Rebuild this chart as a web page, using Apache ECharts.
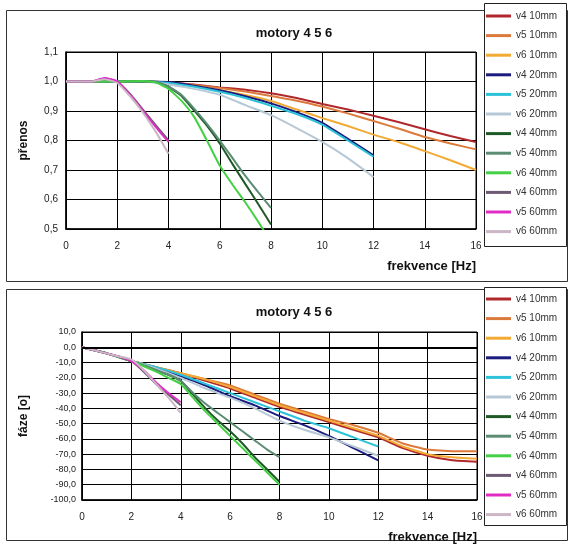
<!DOCTYPE html>
<html>
<head>
<meta charset="utf-8">
<script src="https://cdn.jsdelivr.net/npm/echarts@6/dist/echarts.min.js"></script>
<style>
  html, body { margin: 0; padding: 0; background: #fff; }
  #chart { width: 569px; height: 547px; }
</style>
</head>
<body>
<div id="chart"></div>
<script>
// serie names (legend order)
const names = ["v4 10mm", "v5 10mm", "v6 10mm", "v4 20mm", "v5 20mm", "v6 20mm",
  "v4 40mm", "v5 40mm", "v6 40mm", "v4 60mm", "v5 60mm", "v6 60mm"];
const colors = ["#b0282c", "#dc7a3c", "#f2aa34", "#1c1c7e", "#2cc2d8", "#b6c8d6",
  "#1f5a26", "#5c8c74", "#44d044", "#6c5a72", "#e02cc4", "#cbb6c6"];

// frekvence [Hz]
const f10 = [0, 1, 2, 3, 4, 5, 6, 7, 8, 9, 10, 11, 12, 13, 14, 15, 16];
const f20 = [0, 1, 2, 3, 4, 5, 6, 7, 8, 9, 10, 11, 12];
const f40 = [0, 1, 2, 3, 3.5, 4, 4.5, 5, 5.5, 6, 6.5, 7, 7.5, 8];
const f60 = [0, 0.5, 1, 1.5, 2, 2.5, 3, 3.5, 4];

// prenos
const prenosV4_10 = [1.0, 1.0, 1.0, 1.0, 0.997, 0.99, 0.98, 0.972, 0.96, 0.944, 0.924, 0.905, 0.884, 0.862, 0.838, 0.815, 0.795];
const prenosV5_10 = [1.0, 1.0, 1.0, 1.0, 0.996, 0.988, 0.978, 0.966, 0.951, 0.935, 0.915, 0.892, 0.866, 0.84, 0.812, 0.79, 0.77];
const prenosV6_10 = [1.0, 1.0, 1.0, 1.0, 0.995, 0.985, 0.97, 0.954, 0.934, 0.905, 0.876, 0.849, 0.82, 0.794, 0.764, 0.733, 0.7];
const prenosV4_20 = [1.0, 1.0, 1.0, 1.0, 0.998, 0.986, 0.97, 0.95, 0.926, 0.896, 0.86, 0.806, 0.75];
const prenosV5_20 = [1.0, 1.0, 1.0, 1.0, 0.995, 0.982, 0.965, 0.944, 0.918, 0.89, 0.854, 0.8, 0.745];
const prenosV6_20 = [1.0, 1.0, 1.0, 1.0, 0.99, 0.975, 0.955, 0.92, 0.886, 0.842, 0.795, 0.74, 0.676];
const prenosV4_40 = [1.0, 1.0, 1.0, 1.0, 0.998, 0.982, 0.952, 0.902, 0.85, 0.79, 0.72, 0.652, 0.585, 0.515];
const prenosV5_40 = [1.0, 1.0, 1.0, 1.0, 0.998, 0.983, 0.955, 0.908, 0.856, 0.8, 0.74, 0.68, 0.625, 0.572];
const prenosV6_40 = [1.0, 1.0, 1.0, 1.002, 0.997, 0.975, 0.935, 0.88, 0.8, 0.715, 0.65, 0.59, 0.525, 0.455];
const prenosV4_60 = [1.0, 1.0, 1.0, 1.01, 1.0, 0.958, 0.905, 0.852, 0.8];
const prenosV5_60 = [1.0, 1.0, 1.0, 1.012, 1.0, 0.955, 0.9, 0.846, 0.795];
const prenosV6_60 = [1.0, 1.0, 1.0, 1.008, 0.995, 0.95, 0.895, 0.83, 0.755];

// faze [o]
const fazeV4_10 = [0, -4, -9, -13, -17, -22, -27, -33, -39, -44, -49, -54, -59, -66, -71, -74, -75];
const fazeV5_10 = [0, -4, -9, -13, -17, -21, -25, -31, -37, -42, -47, -51, -56, -63, -67, -68, -68];
const fazeV6_10 = [0, -4, -9, -13, -17, -21, -26, -32, -38, -43, -48, -53, -58, -65, -70, -72, -73];
const fazeV4_20 = [0, -4, -9, -14, -19, -25, -32, -38, -45, -51, -58, -66, -74];
const fazeV5_20 = [0, -4, -9, -13, -18, -24, -30, -36, -42, -48, -53, -59, -65];
const fazeV6_20 = [0, -4, -9, -14, -20, -27, -33, -40, -48, -54, -59, -65, -71];
const fazeV4_40 = [0, -4, -9, -15, -18, -22, -31, -40, -48, -55, -63, -72, -80, -88];
const fazeV5_40 = [0, -4, -9, -15, -18, -22, -30, -37, -43, -49, -55, -61, -67, -72];
const fazeV6_40 = [0, -4, -9, -16, -20, -24, -33, -42, -50, -58, -66, -74, -82, -90];
const fazeV4_60 = [0, -2, -4, -6, -9, -16, -24, -31, -38];
const fazeV5_60 = [0, -2, -4, -6, -9, -15, -23, -30, -36];
const fazeV6_60 = [0, -2, -4, -6, -8, -15, -24, -33, -43];

const prenos = [
  [f10, prenosV4_10], [f10, prenosV5_10], [f10, prenosV6_10],
  [f20, prenosV4_20], [f20, prenosV5_20], [f20, prenosV6_20],
  [f40, prenosV4_40], [f40, prenosV5_40], [f40, prenosV6_40],
  [f60, prenosV4_60], [f60, prenosV5_60], [f60, prenosV6_60]
];
const faze = [
  [f10, fazeV4_10], [f10, fazeV5_10], [f10, fazeV6_10],
  [f20, fazeV4_20], [f20, fazeV5_20], [f20, fazeV6_20],
  [f40, fazeV4_40], [f40, fazeV5_40], [f40, fazeV6_40],
  [f60, fazeV4_60], [f60, fazeV5_60], [f60, fazeV6_60]
];

const FONT = "Liberation Sans";

function makeSeries(list, gridIdx) {
  return list.map((pair, i) => ({
    name: names[i],
    type: "line",
    xAxisIndex: gridIdx,
    yAxisIndex: gridIdx,
    data: pair[0].map((x, k) => [x, pair[1][k]]),
    showSymbol: false,
    smooth: 0.15,
    clip: true,
    lineStyle: { color: colors[i], width: 2 },
    itemStyle: { color: colors[i] },
    // later series drawn on top, like the original
    z: 3 + i * 0.01
  }));
}

function xAxisOpt(gridIdx) {
  return {
    type: "value",
    gridIndex: gridIdx,
    min: 0,
    max: 16,
    interval: 2,
    name: "frekvence [Hz]",
    nameLocation: "end",
    nameGap: 0,
    nameTextStyle: {
      fontFamily: FONT, fontWeight: "bold", fontSize: 13, color: "#111",
      align: "right", verticalAlign: "top", padding: [31, 0, 0, 0]
    },
    axisLine: { onZero: false, lineStyle: { color: "#000", width: 1.5 } },
    axisTick: { show: false },
    splitLine: { show: true, lineStyle: { color: "#000", width: 1 } },
    axisLabel: { fontFamily: FONT, fontSize: 10, color: "#222", margin: 12 }
  };
}

const option = {
  backgroundColor: "#fff",
  animation: false,
  title: [
    { text: "motory 4 5 6", left: 289, top: 22, textAlign: "center",
      textStyle: { fontFamily: FONT, fontSize: 13, fontWeight: "bold", color: "#111" } },
    { text: "motory 4 5 6", left: 289, top: 301, textAlign: "center",
      textStyle: { fontFamily: FONT, fontSize: 13, fontWeight: "bold", color: "#111" } }
  ],
  legend: [
    { data: names, orient: "vertical", left: 486, top: 10, icon: "rect",
      itemWidth: 25, itemHeight: 3, itemGap: 7.6, padding: 0,
      textStyle: { fontFamily: FONT, fontSize: 10, color: "#333", lineHeight: 12 } },
    { data: names, orient: "vertical", left: 486, top: 293, icon: "rect",
      itemWidth: 25, itemHeight: 3, itemGap: 7.6, padding: 0,
      textStyle: { fontFamily: FONT, fontSize: 10, color: "#333", lineHeight: 12 } }
  ],
  grid: [
    { left: 66, right: 93, top: 52, bottom: 318, show: true,
      backgroundColor: "#fff", borderColor: "#000", borderWidth: 1 },
    { left: 82, right: 92, top: 332, bottom: 47, show: true,
      backgroundColor: "#fff", borderColor: "#000", borderWidth: 1 }
  ],
  xAxis: [xAxisOpt(0), xAxisOpt(1)],
  yAxis: [
    {
      type: "value", gridIndex: 0, min: 0.5, max: 1.1, interval: 0.1,
      name: "přenos", nameLocation: "middle", nameRotate: 90, nameGap: 36,
      nameTextStyle: { fontFamily: FONT, fontWeight: "bold", fontSize: 12, color: "#111" },
      axisLine: { show: true, lineStyle: { color: "#000", width: 1.5 } },
      axisTick: { show: false },
      splitLine: { show: true, lineStyle: { color: "#000", width: 1 } },
      axisLabel: { fontFamily: FONT, fontSize: 10, color: "#222", margin: 8,
        formatter: v => v.toFixed(1).replace(".", ",") }
    },
    {
      type: "value", gridIndex: 1, min: -100, max: 10, interval: 10,
      name: "fáze [o]", nameLocation: "middle", nameRotate: 90, nameGap: 52,
      nameTextStyle: { fontFamily: FONT, fontWeight: "bold", fontSize: 12, color: "#111" },
      axisLine: { show: true, lineStyle: { color: "#000", width: 1.5 } },
      axisTick: { show: false },
      splitLine: { show: true, lineStyle: { color: "#000", width: 1 } },
      axisLabel: { fontFamily: FONT, fontSize: 9, color: "#222", margin: 6,
        formatter: v => v.toFixed(1).replace(".", ",") }
    }
  ],
  graphic: [
    { type: "rect", shape: { x: 6.5, y: 10.5, width: 561, height: 271 }, z: -10,
      style: { fill: "#fff", stroke: "#333", lineWidth: 1 } },
    { type: "rect", shape: { x: 6.5, y: 289.5, width: 561, height: 251 }, z: -10,
      style: { fill: "#fff", stroke: "#333", lineWidth: 1 } },
    { type: "rect", shape: { x: 484.5, y: 3.5, width: 82, height: 243 }, z: -5,
      style: { fill: "#fff", stroke: "#222", lineWidth: 1 } },
    { type: "rect", shape: { x: 484.5, y: 287.5, width: 82, height: 238 }, z: -5,
      style: { fill: "#fff", stroke: "#222", lineWidth: 1 } }
  ],
  series: makeSeries(prenos, 0).concat(makeSeries(faze, 1))
};

// thick zero line on the phase chart
option.series[12].markLine = {
  silent: true, symbol: "none", label: { show: false },
  lineStyle: { color: "#000", width: 2, type: "solid" },
  data: [{ yAxis: 0 }]
};

const chart = echarts.init(document.getElementById("chart"), null, { renderer: "canvas" });
chart.setOption(option);
</script>
</body>
</html>
